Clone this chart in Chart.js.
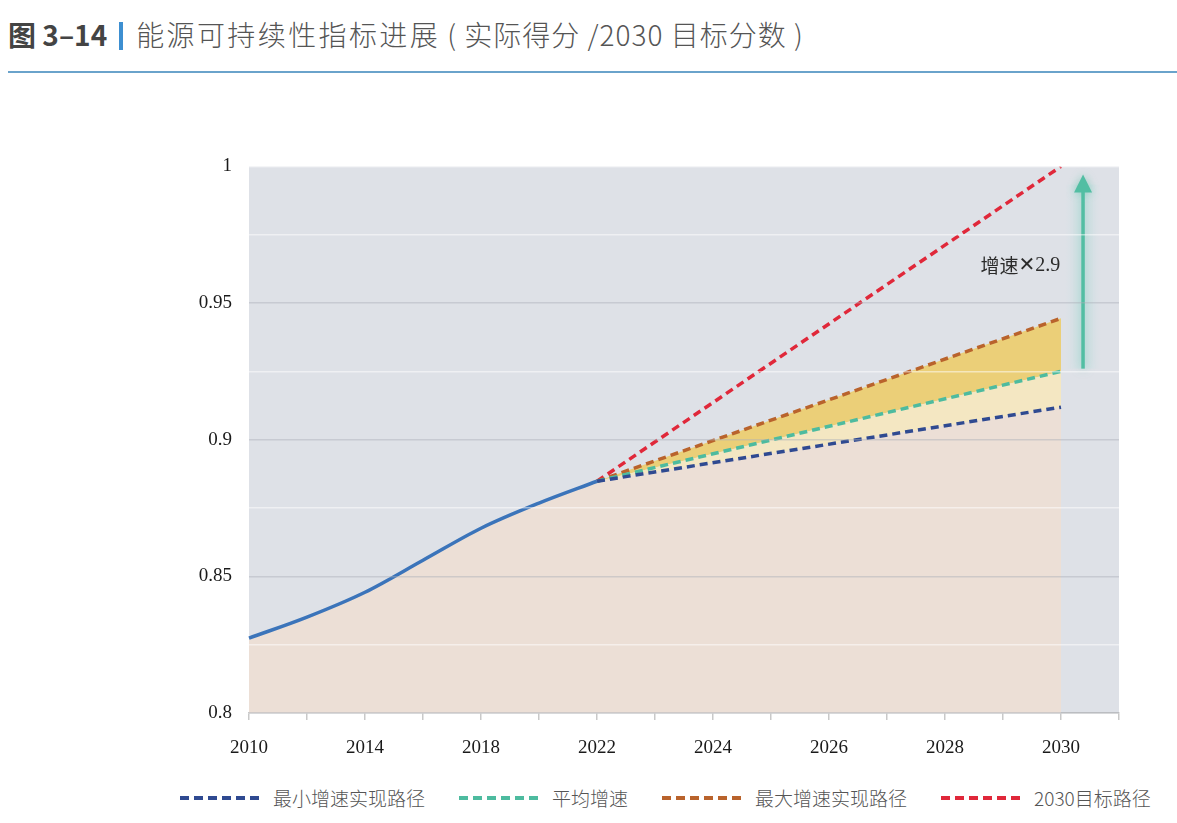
<!DOCTYPE html>
<html>
<head>
<meta charset="utf-8">
<script src="https://cdn.jsdelivr.net/npm/chart.js@4"></script>
<style>
  html, body { margin: 0; padding: 0; background: #fff; }
  body { width: 1177px; height: 823px; position: relative; overflow: hidden; }
  #titulo { position: absolute; left: 8px; top: 14px; font-family: "Noto Sans CJK SC", "Noto Sans", sans-serif; font-size: 28px; color: #555; white-space: nowrap; }
  #titulo b { color: #444; font-weight: 700; }
  #titulo .barra { display: inline-block; width: 4px; height: 28px; background: #3d8fd1; vertical-align: -4px; margin: 0 13px 0 12px; }
  #titulo .resto { font-weight: 300; letter-spacing: 2.4px; }
  #titulo .resto2 { font-weight: 300; letter-spacing: 1px; }
  #regla { position: absolute; left: 8px; right: 0; top: 71px; height: 2px; background: #6aa3cb; }
  #grafica { position: absolute; left: 0; top: 138px; }
  #leyenda { position: absolute; left: 180px; top: 784px; width: 1000px; display: flex; align-items: center; white-space: nowrap; font-family: "Noto Sans CJK SC", sans-serif; font-size: 19px; font-weight: 300; color: #555; }
  #leyenda .item { display: flex; align-items: center; flex-shrink: 0; margin-right: 34px; }
  #leyenda .raya { width: 82px; height: 4px; margin-right: 11px; flex-shrink: 0; }
</style>
</head>
<body>
<div id="titulo"><b>图 3–14</b><span class="barra"></span><span class="resto">能源可持续性指标进展</span><span class="resto2"> ( 实际得分 /2030 目标分数 )</span></div>
<div id="regla"></div>
<canvas id="grafica" width="1177" height="632"></canvas>
<div id="leyenda"></div>
<script>
// categorías del eje x (la última vacía para el tramo final)
const anios = ['2010','2012','2014','2016','2018','2020','2022','2023','2024','2025','2026','2027','2028','2029','2030',''];
const etiquetasX = ['2010','2014','2018','2022','2024','2026','2028','2030'];
const etiquetasY = ['0.8','0.85','0.9','0.95','1'];

// serie histórica
const aniosHistoria = ['2010','2012','2014','2016','2018','2020','2022'];
const valoresHistoria = [0.8274, 0.8351, 0.8442, 0.8559, 0.8676, 0.8768, 0.8848];

// trayectorias 2022 -> 2030
const aniosRuta = ['2022','2030'];
const rutaMinima = [0.8848, 0.9119];
const rutaMedia = [0.8848, 0.9250];
const rutaMaxima = [0.8848, 0.9444];
const rutaObjetivo = [0.8848, 1.0];

const nombres = ['最小增速实现路径', '平均增速', '最大增速实现路径', '2030目标路径'];
const colores = ['#2f4a91', '#4dbb9f', '#b9632c', '#e0283a'];

// flecha y texto "增速×2.9"
const flecha = { x: 14.38, desde: 0.926, hasta: 0.997 };
const textoFlecha = { x: 13.3, y: 0.9638, partes: ['增速', '✕', '2.9'] };

const aPuntos = (xs, ys) => xs.map((x, i) => ({ x: x, y: ys[i] }));

const fondoArea = {
    id: 'fondoArea',
    beforeDraw(chart) {
        const { ctx, chartArea: a } = chart;
        ctx.save();
        ctx.fillStyle = '#dee1e7';
        ctx.fillRect(a.left, a.top, a.right - a.left, a.bottom - a.top);
        ctx.restore();
    }
};

const dibujoFlecha = {
    id: 'dibujoFlecha',
    afterDatasetsDraw(chart) {
        const { ctx, scales } = chart;
        const x = scales.x.getPixelForValue(flecha.x);
        const y0 = scales.y.getPixelForValue(flecha.desde);
        const y1 = scales.y.getPixelForValue(flecha.hasta);
        ctx.save();
        // halo suave
        const g = ctx.createLinearGradient(x - 18, 0, x + 18, 0);
        g.addColorStop(0, 'rgba(190,225,225,0)');
        g.addColorStop(0.5, 'rgba(190,225,225,0.45)');
        g.addColorStop(1, 'rgba(190,225,225,0)');
        ctx.fillStyle = g;
        ctx.fillRect(x - 18, y1 + 10, 36, y0 - y1 - 10);
        ctx.shadowColor = 'rgba(80,190,160,0.55)';
        ctx.shadowBlur = 10;
        ctx.strokeStyle = '#52bea3';
        ctx.lineWidth = 3.5;
        ctx.beginPath();
        ctx.moveTo(x, y0);
        ctx.lineTo(x, y1 + 14);
        ctx.stroke();
        ctx.fillStyle = '#52bea3';
        ctx.beginPath();
        ctx.moveTo(x, y1);
        ctx.lineTo(x - 9, y1 + 18);
        ctx.lineTo(x + 9, y1 + 18);
        ctx.closePath();
        ctx.fill();
        ctx.shadowBlur = 0;

        // texto
        const tx = scales.x.getPixelForValue(textoFlecha.x);
        const ty = scales.y.getPixelForValue(textoFlecha.y);
        const fuentes = ['19px "Noto Sans CJK SC"', 'bold 20px "DejaVu Sans"', '20px "Liberation Serif"'];
        let ancho = 0;
        const anchos = textoFlecha.partes.map((p, i) => { ctx.font = fuentes[i]; const w = ctx.measureText(p).width; ancho += w; return w; });
        let cx = tx - ancho / 2;
        ctx.fillStyle = '#2b2b2b';
        ctx.textBaseline = 'middle';
        textoFlecha.partes.forEach((p, i) => {
            ctx.font = fuentes[i];
            ctx.fillText(p, cx, ty);
            cx += anchos[i];
        });
        ctx.restore();
    }
};

const discontinua = [8, 5];

new Chart(document.getElementById('grafica').getContext('2d'), {
    type: 'line',
    data: {
        labels: anios,
        datasets: [
            {
                label: 'historia',
                data: aPuntos(aniosHistoria, valoresHistoria),
                borderColor: '#3b74ba',
                borderWidth: 3.5,
                cubicInterpolationMode: 'monotone',
                pointRadius: 0,
                fill: 'origin',
                backgroundColor: '#ecdfd6'
            },
            {
                label: nombres[0],
                data: aPuntos(aniosRuta, rutaMinima),
                borderColor: colores[0],
                borderWidth: 3.5,
                borderDash: discontinua,
                pointRadius: 0,
                fill: 'origin',
                backgroundColor: '#ecdfd6'
            },
            {
                label: nombres[1],
                data: aPuntos(aniosRuta, rutaMedia),
                borderColor: colores[1],
                borderWidth: 3.5,
                borderDash: discontinua,
                pointRadius: 0,
                fill: 1,
                backgroundColor: '#f4e7c2'
            },
            {
                label: nombres[2],
                data: aPuntos(aniosRuta, rutaMaxima),
                borderColor: colores[2],
                borderWidth: 3.5,
                borderDash: discontinua,
                pointRadius: 0,
                fill: 2,
                backgroundColor: '#ebcf78'
            },
            {
                label: nombres[3],
                data: aPuntos(aniosRuta, rutaObjetivo),
                borderColor: colores[3],
                borderWidth: 3.5,
                borderDash: discontinua,
                pointRadius: 0,
                fill: false
            }
        ]
    },
    options: {
        responsive: false,
        animation: false,
        layout: { padding: { left: 0, right: 58, top: 4, bottom: 0 } },
        plugins: {
            legend: { display: false },
            tooltip: { enabled: false },
            filler: { drawTime: 'beforeDatasetsDraw' }
        },
        scales: {
            x: {
                type: 'category',
                offset: false,
                border: { color: '#c9c9c9', width: 1.5 },
                grid: { drawOnChartArea: false, drawTicks: true, tickLength: 7, color: '#c9c9c9', lineWidth: 1.5 },
                ticks: {
                    autoSkip: false,
                    maxRotation: 0,
                    padding: 17,
                    color: '#1a1a1a',
                    font: { family: '"Liberation Serif"', size: 19 },
                    callback: function (v, i) {
                        const l = anios[i];
                        return etiquetasX.includes(l) ? l : '';
                    }
                },
                afterFit: s => { s.height = 57; }
            },
            y: {
                min: 0.8,
                max: 1,
                border: { display: false },
                grid: {
                    z: 1,
                    drawTicks: false,
                    lineWidth: 1.5,
                    color: c => {
                        const v = c.tick.value;
                        if (Math.abs(v - 1) < 1e-6) return 'rgba(255,255,255,0.45)';
                        return etiquetasY.some(l => Math.abs(parseFloat(l) - v) < 1e-6) ? 'rgba(170,175,185,0.45)' : 'rgba(255,255,255,0.5)';
                    }
                },
                ticks: {
                    stepSize: 0.025,
                    padding: 17,
                    color: '#1a1a1a',
                    font: { family: '"Liberation Serif"', size: 19 },
                    callback: v => etiquetasY.find(l => Math.abs(parseFloat(l) - v) < 1e-6) || ''
                },
                afterFit: s => { s.width = 249; }
            }
        }
    },
    plugins: [fondoArea, dibujoFlecha]
});

// leyenda
const $leyenda = document.getElementById('leyenda');
nombres.forEach((n, i) => {
    const item = document.createElement('div');
    item.className = 'item';
    const raya = document.createElement('span');
    raya.className = 'raya';
    raya.style.background = `repeating-linear-gradient(to right, ${colores[i]} 0 9px, transparent 9px 14px)`;
    const txt = document.createElement('span');
    txt.textContent = n;
    item.appendChild(raya);
    item.appendChild(txt);
    $leyenda.appendChild(item);
});
</script>
</body>
</html>
